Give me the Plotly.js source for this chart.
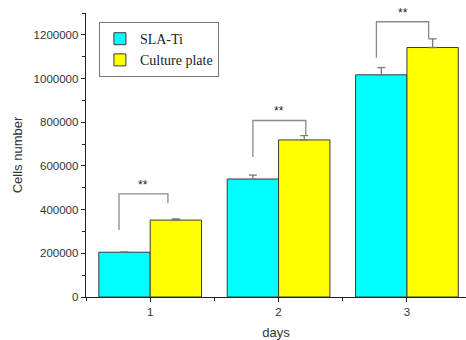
<!DOCTYPE html>
<html>
<head>
<meta charset="utf-8">
<script src="https://cdn.plot.ly/plotly-3.0.1.min.js"></script>
<style>html,body{margin:0;padding:0;background:#fff;}#chart{width:466px;height:340px;}</style>
</head>
<body>
<div id="chart"></div>
<script>
// Data
const days = [1, 2, 3];
const tickLabels = ['1', '2', '3'];
const slaTi = [205000, 540000, 1017000];
const slaTiErr = [2000, 18000, 33000];
const culturePlate = [352000, 719000, 1142000];
const culturePlateErr = [6000, 20000, 40000];
// Significance brackets (data units)
const sigLeftX = [0.757, 1.80, 2.762];
const sigRightX = [1.138, 2.212, 3.169];
const sigLeftBottom = [307000, 641000, 1095000];
const sigTop = [472000, 808000, 1260000];
const sigRightBottom = [430000, 739000, 1182000];
const sigLabel = ['**', '**', '**'];

const noLower = days.map(() => 0);

const traces = [
  {
    type: 'bar', name: 'SLA-Ti', x: days, y: slaTi,
    marker: {color: '#00FFFF', line: {color: '#3a3a3a', width: 1}},
    error_y: {type: 'data', symmetric: false, array: slaTiErr, arrayminus: noLower, visible: true, color: '#777', thickness: 1.3, width: 4}
  },
  {
    type: 'bar', name: 'Culture plate', x: days, y: culturePlate,
    marker: {color: '#FFFF00', line: {color: '#3a3a3a', width: 1}},
    error_y: {type: 'data', symmetric: false, array: culturePlateErr, arrayminus: noLower, visible: true, color: '#777', thickness: 1.3, width: 4}
  }
];

const shapes = days.map((d, i) => ({
  type: 'path', xref: 'x', yref: 'y',
  path: `M ${sigLeftX[i]} ${sigLeftBottom[i]} L ${sigLeftX[i]} ${sigTop[i]} L ${sigRightX[i]} ${sigTop[i]} L ${sigRightX[i]} ${sigRightBottom[i]}`,
  line: {color: '#8a8a8a', width: 1.3}
}));

const annotations = days.map((d, i) => ({
  x: (sigLeftX[i] + sigRightX[i]) / 2, y: sigTop[i], xref: 'x', yref: 'y',
  text: sigLabel[i], showarrow: false, yanchor: 'bottom', yshift: 0,
  font: {family: 'Arial, Liberation Sans, sans-serif', size: 12, color: '#222'}
}));

const layout = {
  width: 466, height: 340,
  margin: {l: 86, r: 0, t: 13, b: 43},
  paper_bgcolor: '#fff', plot_bgcolor: '#fff',
  barmode: 'group', bargap: 0.2, bargroupgap: 0,
  showlegend: true,
  legend: {
    x: 0.034, y: 0.968, xanchor: 'left', yanchor: 'top',
    bgcolor: '#fff', bordercolor: '#777', borderwidth: 1,
    font: {family: 'Times New Roman, Liberation Serif, serif', size: 14, color: '#222'},
    tracegroupgap: 2
  },
  font: {family: 'Arial, Liberation Sans, sans-serif', color: '#333'},
  xaxis: {
    range: [0.5, 3.46], tickmode: 'array', tickvals: days, ticktext: tickLabels,
    showline: true, linecolor: '#222', linewidth: 1.3, mirror: false,
    ticks: 'outside', ticklen: 4, tickcolor: '#222', showgrid: false, zeroline: false,
    tickfont: {size: 11.5, color: '#333'},
    minor: {tickvals: [0.5, 1.5, 2.5], ticks: 'outside', ticklen: 3, tickcolor: '#222', showgrid: false},
    title: {text: 'days', font: {size: 13, color: '#333'}, standoff: 11}
  },
  yaxis: {
    range: [0, 1300000], tickmode: 'array',
    tickvals: [0, 200000, 400000, 600000, 800000, 1000000, 1200000],
    ticktext: ['0', '200000', '400000', '600000', '800000', '1000000', '1200000'],
    showline: true, linecolor: '#222', linewidth: 1.3,
    ticks: 'outside', ticklen: 4, tickcolor: '#222', showgrid: false, zeroline: false,
    tickfont: {size: 11.5, color: '#333'},
    minor: {dtick: 100000, ticks: 'outside', ticklen: 2.5, tickcolor: '#222', showgrid: false},
    title: {text: 'Cells number', font: {size: 13, color: '#333'}, standoff: 8}
  },
  shapes: shapes,
  annotations: annotations
};

Plotly.newPlot('chart', traces, layout, {staticPlot: true, displayModeBar: false});
</script>
</body>
</html>
